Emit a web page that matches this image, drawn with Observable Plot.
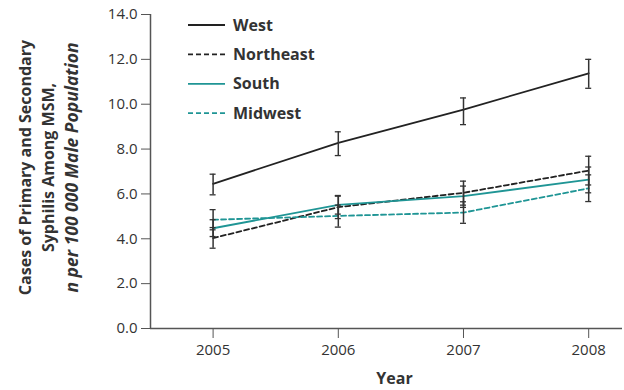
<!DOCTYPE html>
<html>
<head>
<meta charset="utf-8">
<script src="https://cdn.jsdelivr.net/npm/d3@7"></script>
<script src="https://cdn.jsdelivr.net/npm/@observablehq/plot@0.6"></script>
<style>
  html, body { margin: 0; padding: 0; background: #fff; }
  #chart { width: 624px; height: 390px; }
</style>
</head>
<body>
<div id="chart"></div>
<script>
const years = [2005, 2006, 2007, 2008];
const regions = ["West", "Northeast", "South", "Midwest"];
const regionColors = ["#222222", "#222222", "#1f9595", "#1f9595"];
const regionDash = [null, "5,3", null, "5,3"];

const west = [6.45, 8.28, 9.76, 11.38];
const westLo = [5.96, 7.71, 9.09, 10.71];
const westHi = [6.88, 8.77, 10.28, 12.0];
const northeast = [4.03, 5.41, 6.05, 7.04];
const northeastLo = [3.58, 4.90, 5.50, 6.40];
const northeastHi = [4.50, 5.90, 6.57, 7.68];
const south = [4.47, 5.51, 5.90, 6.64];
const southLo = [4.10, 5.10, 5.40, 6.05];
const southHi = [4.85, 5.93, 6.35, 7.20];
const midwest = [4.85, 5.02, 5.17, 6.25];
const midwestLo = [4.40, 4.52, 4.69, 5.66];
const midwestHi = [5.30, 5.50, 5.65, 6.85];

const yTicks = [0, 2, 4, 6, 8, 10, 12, 14];
const yTitleLines = ["Cases of Primary and Secondary", "Syphilis Among MSM,", "n per 100 000 Male Population"];
const xTitle = "Year";

const series = [
  [west, westLo, westHi],
  [northeast, northeastLo, northeastHi],
  [south, southLo, southHi],
  [midwest, midwestLo, midwestHi]
];
const rows = [];
series.forEach(([v, lo, hi], i) => {
  years.forEach((yr, j) => rows.push({region: regions[i], year: yr, value: v[j], lo: lo[j], hi: hi[j]}));
});

const capHalf = 0.024;
const axisColor = "#555";
const textColor = "#333";

const lineMarks = regions.map((r, i) =>
  Plot.line(rows.filter(d => d.region === r), {
    x: "year", y: "value", stroke: regionColors[i], strokeWidth: 1.8,
    strokeDasharray: regionDash[i] || undefined
  })
);

const plot = Plot.plot({
  width: 624,
  height: 390,
  marginLeft: 150,
  marginRight: 2,
  marginTop: 14,
  marginBottom: 62,
  x: {domain: [2004.5, 2008.27]},
  y: {domain: [0, 14]},
  style: {fontFamily: "'Open Sans', sans-serif", fontSize: "15px", color: textColor, background: "#fff"},
  marks: [
    Plot.axisY({ticks: yTicks, tickFormat: d => d.toFixed(1), tickSize: 9, tickPadding: 4, label: null, stroke: axisColor, fontSize: 15, fill: textColor}),
    Plot.axisX({ticks: years, tickFormat: d => String(d), tickSize: 10, tickPadding: 6, label: null, stroke: axisColor, fontSize: 15, fill: textColor}),
    Plot.ruleX([2004.5], {y1: 0, y2: 14, stroke: axisColor, strokeWidth: 1.5}),
    Plot.ruleY([0], {stroke: axisColor, strokeWidth: 1.5}),
    ...lineMarks,
    Plot.ruleX(rows, {x: "year", y1: "lo", y2: "hi", stroke: "#333", strokeWidth: 1.5}),
    Plot.ruleY(rows, {y: "lo", x1: d => d.year - capHalf, x2: d => d.year + capHalf, stroke: "#333", strokeWidth: 1.3}),
    Plot.ruleY(rows, {y: "hi", x1: d => d.year - capHalf, x2: d => d.year + capHalf, stroke: "#333", strokeWidth: 1.3}),
    Plot.text([yTitleLines[0]], {text: d => d, frameAnchor: "left", textAnchor: "middle", dx: -125, dy: -4, rotate: -90, fontWeight: "bold", fontSize: 16, fill: textColor}),
    Plot.text([yTitleLines[1]], {text: d => d, frameAnchor: "left", textAnchor: "middle", dx: -102, dy: -4, rotate: -90, fontWeight: "bold", fontSize: 16, fill: textColor}),
    Plot.text([yTitleLines[2]], {text: d => d, frameAnchor: "left", textAnchor: "middle", dx: -78, dy: -4, rotate: -90, fontWeight: "bold", fontStyle: "italic", fontSize: 17.5, fill: textColor}),
    Plot.text([xTitle], {text: d => d, frameAnchor: "bottom", dx: 8, dy: 55, fontWeight: "bold", fontSize: 16, fill: textColor})
  ]
});

// Legend inside plot area
const svg = d3.select(plot);
const legend = svg.append("g").attr("transform", "translate(188,25)");
regions.forEach((r, i) => {
  const g = legend.append("g").attr("transform", `translate(0,${i * 29.4})`);
  g.append("line").attr("x1", 0).attr("x2", 37).attr("y1", 0).attr("y2", 0)
    .attr("stroke", regionColors[i]).attr("stroke-width", 1.8)
    .attr("stroke-dasharray", regionDash[i] || null);
  g.append("text").attr("x", 45).attr("y", 0).attr("dy", "0.35em")
    .attr("text-anchor", "start")
    .attr("font-family", "'Open Sans', sans-serif").attr("font-size", 16)
    .attr("font-weight", "bold").attr("fill", textColor).text(r);
});

document.getElementById("chart").appendChild(plot);
</script>
</body>
</html>
